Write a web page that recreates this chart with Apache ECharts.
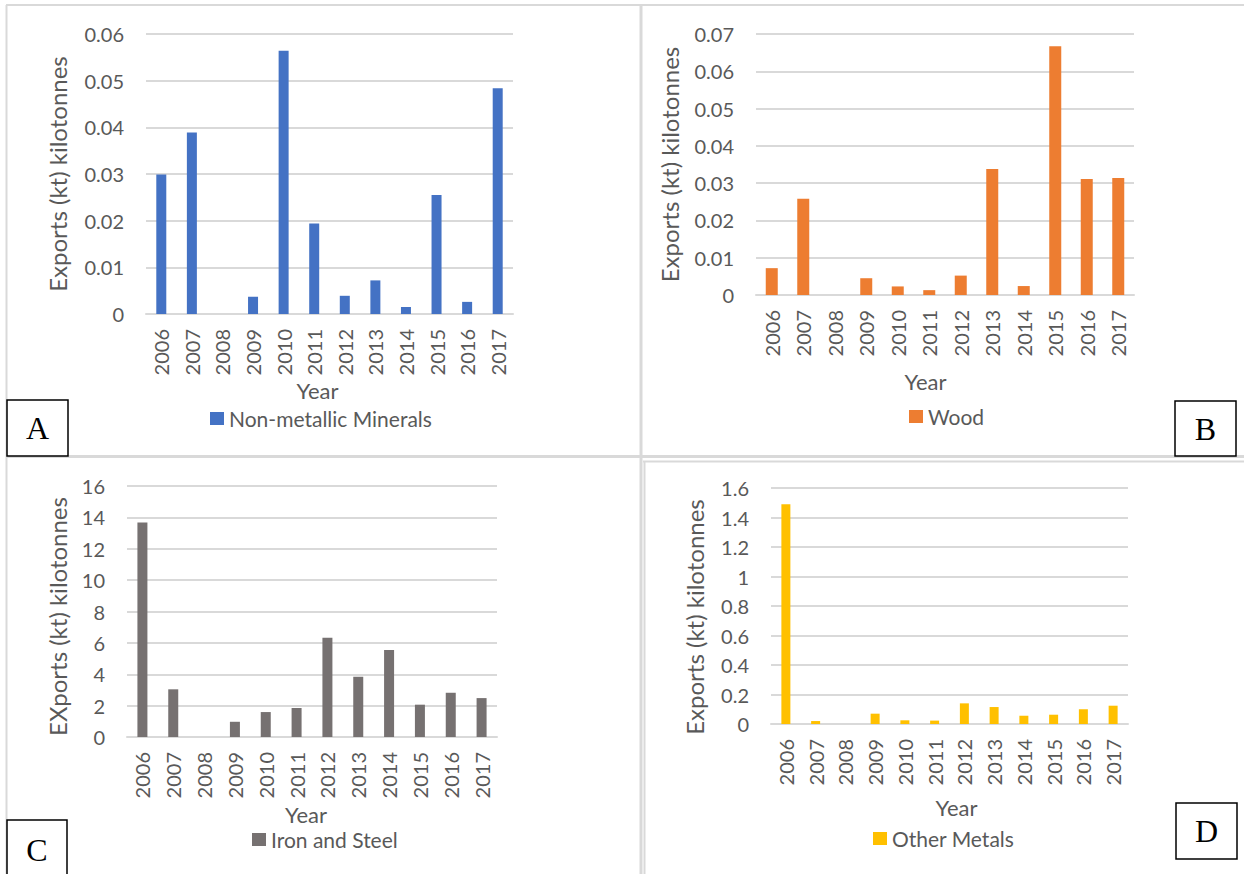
<!DOCTYPE html>
<html>
<head>
<meta charset="utf-8">
<script src="https://cdn.jsdelivr.net/npm/echarts@6/dist/echarts.min.js"></script>
<style>
  html, body { margin: 0; padding: 0; background: #fff; }
  #chart { width: 1244px; height: 874px; }
</style>
</head>
<body>
<div id="chart"></div>
<script>
// values
const years = ['2006', '2007', '2008', '2009', '2010', '2011', '2012', '2013', '2014', '2015', '2016', '2017']
const nonMetallic = [0.0299, 0.0389, 0, 0.0037, 0.0564, 0.0194, 0.0039, 0.0072, 0.0015, 0.0255, 0.0026, 0.0484]
const wood = [0.0072, 0.0258, 0, 0.0045, 0.0023, 0.0013, 0.0052, 0.0338, 0.0024, 0.0667, 0.0311, 0.0314]
const ironSteel = [13.67, 3.04, 0, 0.97, 1.59, 1.85, 6.32, 3.84, 5.54, 2.06, 2.82, 2.48]
const otherMetals = [1.49, 0.02, 0, 0.07, 0.025, 0.023, 0.14, 0.115, 0.056, 0.063, 0.10, 0.124]

const TEXT = '#595959'
const GRID_LINE = '#d9d9d9'
const FONT = 'Lato, "Open Sans", sans-serif'

const panels = [
  { name: 'Non-metallic Minerals', data: nonMetallic, color: '#4472C4', yTitle: 'Exports (kt) kilotonnes',
    max: 0.06, interval: 0.01, grid: { left: 146, top: 34, width: 367, height: 280 }, barWidth: 10,
    yNameGap: 77, yNamePad: [0, 0, 0, 0], xNameGap: 60, xNamePad: [0, 24, 0, 0], legendPos: { left: 210, top: 408 } },
  { name: 'Wood', data: wood, color: '#ED7D31', yTitle: 'Exports (kt) kilotonnes',
    max: 0.07, interval: 0.01, grid: { left: 756, top: 34, width: 378, height: 261 }, barWidth: 12,
    yNameGap: 75, yNamePad: [0, 0, 0, 0], xNameGap: 75, xNamePad: [0, 39, 0, 0], legendPos: { left: 909, top: 406 } },
  { name: 'Iron and Steel', data: ironSteel, color: '#767171', yTitle: 'EXports (kt) kilotonnes',
    max: 16, interval: 2, grid: { left: 127, top: 486, width: 370, height: 251 }, barWidth: 10,
    yNameGap: 58, yNamePad: [0, 10, 0, 0], xNameGap: 66, xNamePad: [0, 12, 0, 0], legendPos: { left: 252, top: 829 } },
  { name: 'Other Metals', data: otherMetals, color: '#FFC000', yTitle: 'Exports (kt) kilotonnes',
    max: 1.6, interval: 0.2, grid: { left: 771, top: 488, width: 357, height: 236 }, barWidth: 9,
    yNameGap: 65, yNamePad: [0, 22, 0, 0], xNameGap: 72, xNamePad: [0, 0, 0, 14], legendPos: { left: 873, top: 828 } },
]

const grid = [], xAxis = [], yAxis = [], series = [], legend = []
panels.forEach((p, i) => {
  grid.push(Object.assign({ outerBoundsMode: 'none', containLabel: false }, p.grid))
  xAxis.push({
    type: 'category', gridIndex: i, data: years,
    name: 'Year', nameLocation: 'middle', nameGap: p.xNameGap,
    nameTextStyle: { color: TEXT, fontSize: 22, fontFamily: FONT, padding: p.xNamePad },
    axisLine: { show: true, lineStyle: { color: GRID_LINE, width: 2 } },
    axisTick: { show: false },
    axisLabel: { rotate: 90, margin: 15, color: TEXT, fontSize: 20, fontFamily: FONT, interval: 0 },
  })
  yAxis.push({
    type: 'value', gridIndex: i, min: 0, max: p.max, interval: p.interval,
    name: p.yTitle, nameLocation: 'middle', nameGap: p.yNameGap, nameRotate: 90,
    nameTextStyle: { color: TEXT, fontSize: 24, fontFamily: FONT, padding: p.yNamePad },
    axisLine: { show: false }, axisTick: { show: false },
    axisLabel: { margin: 22, color: TEXT, fontSize: 20, fontFamily: FONT },
    splitLine: { lineStyle: { color: GRID_LINE, width: 2 } },
  })
  series.push({
    name: p.name, type: 'bar', xAxisIndex: i, yAxisIndex: i,
    data: p.data, barWidth: p.barWidth, itemStyle: { color: p.color },
  })
  legend.push({
    data: [p.name], left: p.legendPos.left, top: p.legendPos.top,
    icon: 'rect', itemWidth: 14, itemHeight: 13, itemGap: 6, padding: 0,
    textStyle: { color: TEXT, fontSize: 21, fontFamily: FONT },
    selectedMode: false,
  })
})

// panel frame lines and letter boxes
const line = (x1, y1, x2, y2, w) => ({ type: 'line', shape: { x1, y1, x2, y2 }, style: { stroke: GRID_LINE, lineWidth: w }, silent: true })
const box = (x, y, w, h, letter) => ({
  type: 'group', children: [
    { type: 'rect', shape: { x, y, width: w, height: h }, style: { fill: '#fff', stroke: '#000', lineWidth: 1.5 } },
    { type: 'text', x: x + w / 2, y: y + h / 2,
      style: { text: letter, font: '32px "Liberation Serif", "Times New Roman", serif', fill: '#000',
        align: 'center', verticalAlign: 'middle', textAlign: 'center', textVerticalAlign: 'middle' } },
  ]
})

const graphic = [
  line(6, 5, 1244, 5, 2),
  line(6.5, 5, 6.5, 874, 2),
  line(6, 456.5, 1244, 456.5, 3),
  line(641, 5, 641, 874, 3),
  line(643, 461.5, 1244, 461.5, 2),
  line(644.5, 461.5, 644.5, 874, 2),
  box(7, 400, 61, 56, 'A'),
  box(1175, 401, 61, 55, 'B'),
  box(7, 820, 60, 60, 'C'),
  box(1176, 803, 61, 56, 'D'),
]

const chart = echarts.init(document.getElementById('chart'), null, { renderer: 'svg' })
chart.setOption({
  animation: false,
  backgroundColor: '#fff',
  grid, xAxis, yAxis, series, legend, graphic,
})
</script>
</body>
</html>
